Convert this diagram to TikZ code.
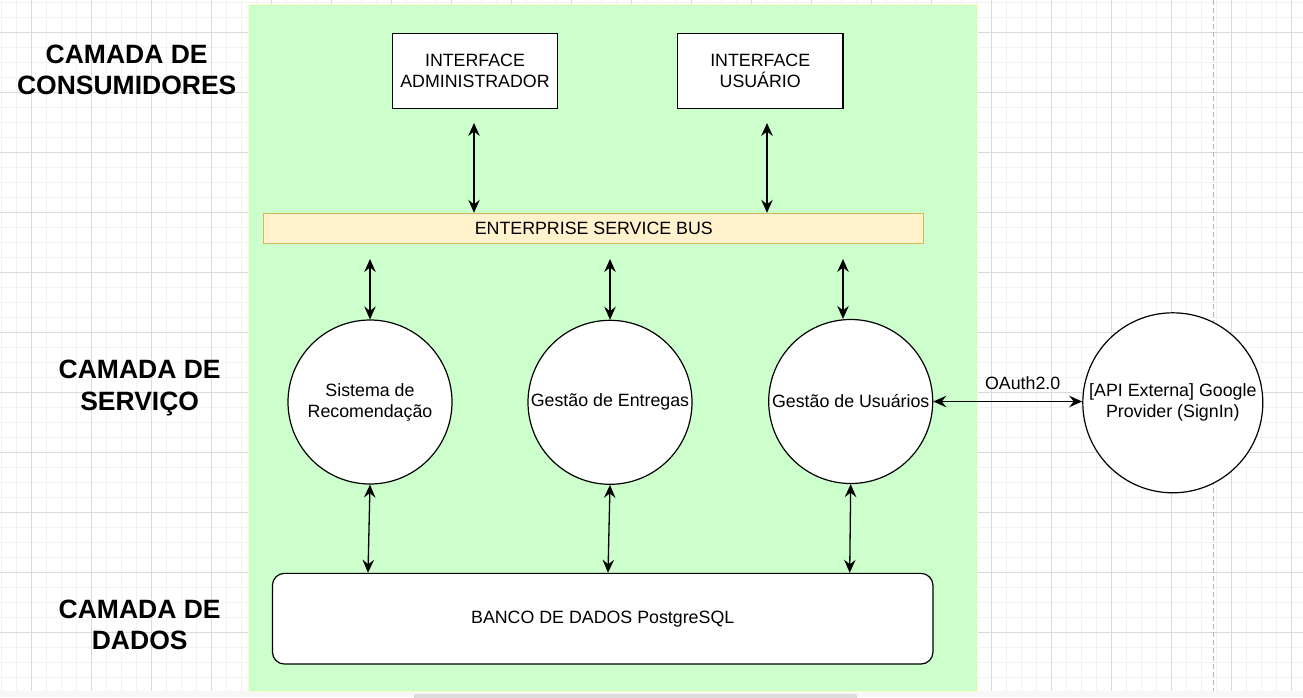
\documentclass[tikz,border=0pt]{standalone}
\usepackage{fontspec}
\setmainfont{Liberation Sans}
\usetikzlibrary{arrows.meta}
\definecolor{panelgreen}{HTML}{CCFFCC}
\definecolor{panelborder}{HTML}{F4FFC8}
\definecolor{esbfill}{HTML}{FFF2CC}
\definecolor{esbdraw}{HTML}{D6B656}
\definecolor{gridmajor}{HTML}{DADADA}
\definecolor{gridminor}{HTML}{F2F2F2}
\definecolor{pagebreak}{HTML}{B4B4B4}
\definecolor{stripbg}{HTML}{F7F7F7}
\definecolor{scrollbar}{HTML}{DCDCDC}
\begin{document}
\begin{tikzpicture}[x=1pt,y=-1pt,
  basefont/.style={font=\fontsize{17.8}{21}\selectfont},
  box/.style={draw, fill=white, line width=1.2pt, minimum width=165.4pt, minimum height=75.4pt, inner sep=0pt, align=center, basefont},
  esbbox/.style={draw=esbdraw, fill=esbfill, line width=1pt, minimum width=660.3pt, minimum height=30pt, inner sep=0pt, basefont},
  dbbox/.style={draw, fill=white, line width=1.2pt, rounded corners=12pt, minimum width=660.5pt, minimum height=90.7pt, inner sep=0pt, basefont},
  svc/.style={draw, fill=white, circle, line width=1.2pt, minimum size=164pt, inner sep=0pt, align=center, basefont},
  layer/.style={inner sep=0pt, align=center, font=\bfseries\fontsize{26.5}{31.5}\selectfont},
  panel/.style={draw=panelborder, fill=panelgreen, line width=1pt, inner sep=0pt, minimum width=729pt, minimum height=687pt},
  biarrow/.style={{Stealth[length=13pt,width=11.5pt,inset=4.5pt]}-{Stealth[length=13pt,width=11.5pt,inset=4.5pt]}, line width=1.3pt},
]
\useasboundingbox (0,0) rectangle (1303,697);
% grid background
\begin{scope}
  \clip (0,0) rectangle (1303,691);
  \fill[white] (0,0) rectangle (1303,691);
  \foreach \i in {0,...,86} \draw[gridminor, line width=0.8pt] ({1.7+15*\i},0) -- ++(0,697);
  \foreach \j in {0,...,46} \draw[gridminor, line width=0.8pt] (0,{2.3+15*\j}) -- ++(1303,0);
  \foreach \i in {0,...,21} \draw[gridmajor, line width=0.9pt] ({31.7+60*\i},0) -- ++(0,697);
  \foreach \j in {0,...,11} \draw[gridmajor, line width=0.9pt] (0,{32.3+60*\j}) -- ++(1303,0);
  \draw[pagebreak, line width=1pt, dash pattern=on 5pt off 3pt] (1213,0) -- (1213,691);
\end{scope}
\fill[stripbg] (0,691) rectangle (1303,697);
\fill[scrollbar, rounded corners=2pt] (414,694) rectangle (857,700);
% container panel
\node[panel, anchor=north west] (panel) at (248.3,3.7) {};
% layer labels
\node[layer] (lcons) at (126.7,69.8) {CAMADA DE\\CONSUMIDORES};
\node[layer] (lserv) at (139.7,387.9) {CAMADA DE\\SERVIÇO};
\node[layer] (ldados) at (139.7,625) {CAMADA DE\\DADOS};
% consumers
\node[box] (admin) at (475,71) {INTERFACE\\ADMINISTRADOR};
\node[box] (user) at (760.2,71) {INTERFACE\\USUÁRIO};
% bus
\node[esbbox] (esb) at (593.8,228.3) {ENTERPRISE SERVICE BUS};
% services
\node[svc] (rec) at (370,402) {Sistema de\\Recomendação};
\node[svc] (ent) at (610,402.3) {Gestão de Entregas};
\node[svc] (usr) at (850.7,401.5) {Gestão de Usuários};
\node[svc, minimum size=180pt] (google) at (1172.8,402.8) {[API Externa] Google\\Provider (SignIn)};
% database
\node[dbbox] (db) at (602.7,618.7) {BANCO DE DADOS PostgreSQL};
% connectors
\coordinate (ta) at (474,123);
\coordinate (tu) at (767,123);
\draw[biarrow] (ta) -- (ta |- esb.north);
\draw[biarrow] (tu) -- (tu |- esb.north);
\coordinate (s1) at (370,259);
\coordinate (s2) at (610,259);
\coordinate (s3) at (843,259);
\draw[biarrow] (s1) -- (rec.north);
\draw[biarrow] (s2) -- (ent.north);
\draw[biarrow] (s3) -- (s3 |- usr.north);
\draw[biarrow] (rec.south) -- ([xshift=-2pt]rec.south |- db.north);
\draw[biarrow] (ent.south) -- ([xshift=-2pt]ent.south |- db.north);
\draw[biarrow] (usr.south) -- ([xshift=-1pt]usr.south |- db.north);
\draw[biarrow] (usr.east) -- node[pos=0.6, above=11pt, inner sep=0pt, basefont] (oauth) {OAuth2.0} (usr.east -| google.west);
\end{tikzpicture}
\end{document}
